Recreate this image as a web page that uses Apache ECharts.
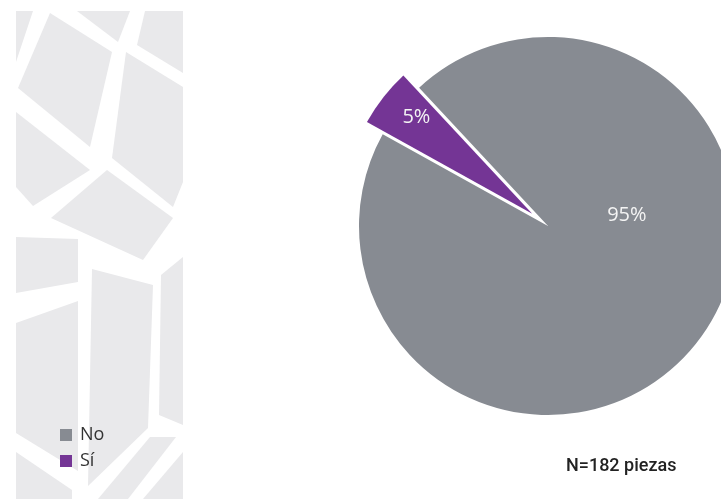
<!DOCTYPE html>
<html>
<head>
<meta charset="utf-8">
<script src="https://cdn.jsdelivr.net/npm/echarts@6/dist/echarts.min.js"></script>
<style>
    html, body { margin: 0; padding: 0; background: #fff; }
    #chart { width: 721px; height: 499px; }
</style>
</head>
<body>
<div id="chart"></div>
<script>
const categories = ['No', 'Sí'];
const values = [95, 5];
const colors = ['#878b92', '#743595'];
const noteText = 'N=182 piezas';

// decorative background strip on the left
const bgPolygons = [
    [[16, 11], [33, 11], [16, 62]],
    [[50, 13], [112, 52], [90, 147], [18, 88]],
    [[77, 11], [130, 11], [118, 42]],
    [[145, 11], [183, 11], [183, 73], [137, 45]],
    [[126, 52], [183, 87], [183, 182], [173, 207], [112, 158]],
    [[16, 112], [90, 170], [33, 206], [16, 187]],
    [[107, 170], [173, 218], [143, 260], [51, 218]],
    [[16, 237], [78, 239], [78, 282], [16, 293]],
    [[92, 269], [153, 285], [148, 428], [88, 486]],
    [[161, 275], [183, 257], [183, 425], [159, 415]],
    [[16, 323], [78, 301], [78, 471], [16, 433]],
    [[16, 452], [72, 490], [72, 499], [16, 499]],
    [[150, 437], [176, 437], [128, 499], [98, 499]],
    [[183, 452], [183, 499], [143, 499]]
];

let pieData = categories.map(function (name, i) {
    return {
        name: name,
        value: values[i],
        selected: name === 'Sí',
        itemStyle: { color: colors[i] }
    }
});

// shift inside labels to where they sit in the original
let labelShift = {
    0: { dx: 2, dy: -71 },
    1: { dx: -39, dy: -36 }
};

let graphics = bgPolygons.map(function (pts) {
    return {
        type: 'polygon',
        silent: true,
        z: -10,
        shape: { points: pts },
        style: { fill: '#e9e9eb' }
    }
});

var myChart = echarts.init(document.getElementById('chart'), null, { renderer: 'canvas' });

var option = {
    animation: false,
    backgroundColor: '#ffffff',
    title: {
        text: noteText,
        left: 561,
        top: 452,
        textStyle: {
            fontFamily: 'Roboto',
            fontWeight: 500,
            fontSize: 18,
            color: '#222222'
        }
    },
    legend: {
        orient: 'vertical',
        left: 55,
        top: 421,
        itemWidth: 12,
        itemHeight: 12,
        itemGap: 8,
        icon: 'rect',
        data: categories,
        selectedMode: false,
        textStyle: {
            fontFamily: 'Open Sans',
            fontSize: 18,
            color: '#333333',
            padding: [0, 0, 0, 3]
        }
    },
    graphic: graphics,
    series: [{
        type: 'pie',
        center: [548, 226],
        radius: 189,
        startAngle: 133,
        clockwise: true,
        selectedMode: 'single',
        selectedOffset: 20,
        avoidLabelOverlap: false,
        label: {
            show: true,
            position: 'inside',
            formatter: '{c}%',
            fontFamily: 'Open Sans',
            fontSize: 20,
            color: '#f4f4f4'
        },
        labelLine: { show: false },
        labelLayout: function (params) {
            return labelShift[params.dataIndex];
        },
        emphasis: { disabled: true },
        data: pieData
    }]
};

myChart.setOption(option);
</script>
</body>
</html>
